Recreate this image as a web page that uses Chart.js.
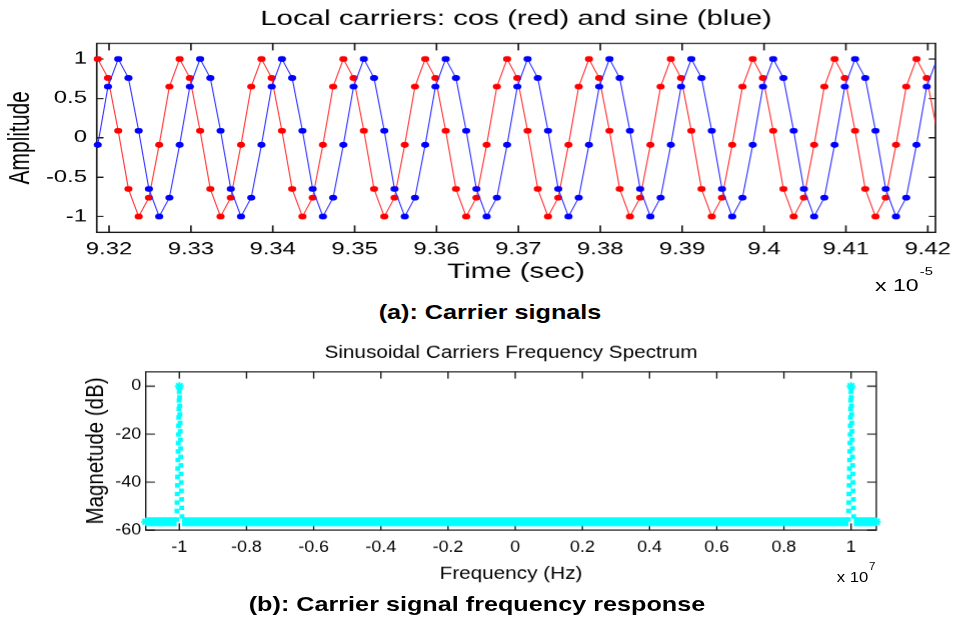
<!DOCTYPE html>
<html>
<head>
<meta charset="utf-8">
<script src="https://cdn.jsdelivr.net/npm/chart.js@4.4.1/dist/chart.umd.min.js"></script>
<style>
  html, body { margin: 0; padding: 0; background: #fff; }
  body { width: 953px; height: 618px; position: relative; overflow: hidden; font-family: 'Liberation Sans', Arial, sans-serif; }
  .stretch { position: absolute; left: 0; transform-origin: 0 0; }
  .mult { position: absolute; line-height: 1; color: #000; white-space: nowrap; }
  .caption { position: absolute; width: 600px; text-align: center; font-weight: bold; font-size: 21px; line-height: 24px; transform: scaleX(1.2); transform-origin: 50% 50%; }
</style>
</head>
<body>

<div class="stretch" id="topWrap" style="top:0; width:681px; height:300px; transform:scaleX(1.4);">
  <canvas id="carrierChart"></canvas>
  <div class="mult" style="left:625px; top:277px; font-size:16.5px;">x 10</div>
  <div class="mult" style="left:657px; top:266px; font-size:10.5px;">-5</div>
</div>
<div class="caption" style="left:190px; top:300px;">(a): Carrier signals</div>

<div class="stretch" id="botWrap" style="top:330px; width:829px; height:288px; transform:scaleX(1.15);">
  <canvas id="spectrumChart"></canvas>
  <div class="mult" style="left:727.6px; top:239.7px; font-size:14.5px;">x 10</div>
  <div class="mult" style="left:755.7px; top:231.5px; font-size:10px;">7</div>
</div>
<div class="caption" style="left:177px; top:592px;">(b): Carrier signal frequency response</div>

<script>
// ---- (a) carrier samples, time in units of 1e-5 s ----
const times = [
  9.31862, 9.31987, 9.32112, 9.32237, 9.32362, 9.32487, 9.32612, 9.32737,
  9.32862, 9.32987, 9.33112, 9.33237, 9.33362, 9.33487, 9.33612, 9.33737,
  9.33862, 9.33987, 9.34112, 9.34237, 9.34362, 9.34487, 9.34612, 9.34737,
  9.34862, 9.34987, 9.35112, 9.35237, 9.35362, 9.35487, 9.35612, 9.35737,
  9.35862, 9.35987, 9.36112, 9.36237, 9.36362, 9.36487, 9.36612, 9.36737,
  9.36862, 9.36987, 9.37112, 9.37237, 9.37362, 9.37487, 9.37612, 9.37737,
  9.37862, 9.37987, 9.38112, 9.38237, 9.38362, 9.38487, 9.38612, 9.38737,
  9.38862, 9.38987, 9.39112, 9.39237, 9.39362, 9.39487, 9.39612, 9.39737,
  9.39862, 9.39987, 9.40112, 9.40237, 9.40362, 9.40487, 9.40612, 9.40737,
  9.40862, 9.40987, 9.41112, 9.41237, 9.41362, 9.41487, 9.41612, 9.41737,
  9.41862, 9.41987, 9.42112
];
const cosVals = [
  1, 0.76, 0.09, -0.65, -1, -0.76, -0.09, 0.65,
  1, 0.76, 0.09, -0.65, -1, -0.76, -0.09, 0.65,
  1, 0.76, 0.09, -0.65, -1, -0.76, -0.09, 0.65,
  1, 0.76, 0.09, -0.65, -1, -0.76, -0.09, 0.65,
  1, 0.76, 0.09, -0.65, -1, -0.76, -0.09, 0.65,
  1, 0.76, 0.09, -0.65, -1, -0.76, -0.09, 0.65,
  1, 0.76, 0.09, -0.65, -1, -0.76, -0.09, 0.65,
  1, 0.76, 0.09, -0.65, -1, -0.76, -0.09, 0.65,
  1, 0.76, 0.09, -0.65, -1, -0.76, -0.09, 0.65,
  1, 0.76, 0.09, -0.65, -1, -0.76, -0.09, 0.65,
  1, 0.76, 0.09
];
const sinVals = [
  -0.09, 0.65, 1, 0.76, 0.09, -0.65, -1, -0.76,
  -0.09, 0.65, 1, 0.76, 0.09, -0.65, -1, -0.76,
  -0.09, 0.65, 1, 0.76, 0.09, -0.65, -1, -0.76,
  -0.09, 0.65, 1, 0.76, 0.09, -0.65, -1, -0.76,
  -0.09, 0.65, 1, 0.76, 0.09, -0.65, -1, -0.76,
  -0.09, 0.65, 1, 0.76, 0.09, -0.65, -1, -0.76,
  -0.09, 0.65, 1, 0.76, 0.09, -0.65, -1, -0.76,
  -0.09, 0.65, 1, 0.76, 0.09, -0.65, -1, -0.76,
  -0.09, 0.65, 1, 0.76, 0.09, -0.65, -1, -0.76,
  -0.09, 0.65, 1, 0.76, 0.09, -0.65, -1, -0.76,
  -0.09, 0.65, 1
];
const timeTicks = [9.32, 9.33, 9.34, 9.35, 9.36, 9.37, 9.38, 9.39, 9.40, 9.41, 9.42];
const ampTicks = [-1, -0.5, 0, 0.5, 1];

// ---- (b) spectrum, frequency in units of 1e7 Hz ----
const freqs = [-1.1, -1.008, -1, -0.992, 0.992, 1, 1.008, 1.075];
const mags = [-56.5, -56.5, 0, -56.5, -56.5, 0, -56.5, -56.5];
const freqTicks = [-1, -0.8, -0.6, -0.4, -0.2, 0, 0.2, 0.4, 0.6, 0.8, 1];
const magTicks = [-60, -40, -20, 0];

Chart.defaults.font.family = "'Liberation Sans', Arial, sans-serif";
Chart.defaults.color = '#000';

const tMin = 9.3185, tMax = 9.42094;

// MATLAB style box with inward ticks on all sides
const matlabBox = {
  id: 'matlabBox',
  beforeDatasetsDraw(chart, args, opts) {
    const { ctx, chartArea: a, scales: { x, y } } = chart;
    ctx.save();
    ctx.strokeStyle = '#1a1a1a';
    ctx.lineWidth = opts.lineWidth;
    ctx.strokeRect(a.left, a.top, a.right - a.left, a.bottom - a.top);
    ctx.beginPath();
    x.ticks.forEach(t => {
      const px = x.getPixelForValue(t.value);
      ctx.moveTo(px, a.bottom); ctx.lineTo(px, a.bottom - opts.xTick);
      ctx.moveTo(px, a.top); ctx.lineTo(px, a.top + opts.xTick);
    });
    y.ticks.forEach(t => {
      const py = y.getPixelForValue(t.value);
      ctx.moveTo(a.left, py); ctx.lineTo(a.left + opts.yTick, py);
      ctx.moveTo(a.right, py); ctx.lineTo(a.right - opts.yTick, py);
    });
    ctx.stroke();
    ctx.restore();
  }
};

function dotRadius(ctx) {
  return ctx.parsed && ctx.parsed.x > tMax ? 0 : 2.9;
}

new Chart(document.getElementById('carrierChart'), {
  type: 'line',
  data: {
    datasets: [
      {
        label: 'sine',
        data: times.map((t, i) => ({ x: t, y: sinVals[i] })),
        borderColor: '#2b2bff',
        backgroundColor: '#0000ff',
        borderWidth: 0.8,
        pointRadius: dotRadius,
        pointBorderWidth: 0,
        tension: 0,
        clip: { left: 10, top: 10, right: 0, bottom: 10 }
      },
      {
        label: 'cos',
        data: times.map((t, i) => ({ x: t, y: cosVals[i] })),
        borderColor: '#ff2b2b',
        backgroundColor: '#ff0000',
        borderWidth: 0.8,
        pointRadius: dotRadius,
        pointBorderWidth: 0,
        tension: 0,
        clip: { left: 10, top: 10, right: 0, bottom: 10 }
      }
    ]
  },
  options: {
    responsive: true,
    maintainAspectRatio: false,
    animation: false,
    events: [],
    devicePixelRatio: 1.4,
    layout: { padding: { left: 0, right: 13.1, top: 0, bottom: 0 } },
    plugins: {
      legend: { display: false },
      tooltip: { enabled: false },
      title: {
        display: true,
        fullSize: false,
        text: 'Local carriers: cos (red) and sine (blue)',
        font: { size: 21, weight: 'normal' },
        color: '#000',
        padding: { top: 6.4, bottom: 11.7 }
      },
      matlabBox: { lineWidth: 1.2, xTick: 7, yTick: 4.8 }
    },
    scales: {
      x: {
        type: 'linear',
        min: tMin,
        max: tMax,
        afterBuildTicks: s => { s.ticks = timeTicks.map(v => ({ value: v })); },
        afterFit: s => { s.height = 67.7; s.paddingLeft = 0; s.paddingRight = 0; },
        grid: { display: false, drawTicks: false },
        border: { display: false },
        ticks: {
          padding: 6.8, autoSkip: false, maxRotation: 0, minRotation: 0,
          font: { size: 17 }, color: '#000',
          callback: v => String(Math.round(v * 100) / 100)
        },
        title: { display: true, text: 'Time (sec)', font: { size: 21 }, color: '#000', padding: { top: 0, bottom: 15.4 } }
      },
      y: {
        min: -1.2,
        max: 1.2,
        afterBuildTicks: s => { s.ticks = ampTicks.map(v => ({ value: v })); },
        afterFit: s => { s.width = 69.1; s.paddingTop = 0; s.paddingBottom = 0; },
        grid: { display: false, drawTicks: false },
        border: { display: false },
        ticks: { padding: 7, font: { size: 17 }, color: '#000', callback: v => String(v) },
        title: { display: true, text: 'Amplitude', font: { size: 21 }, color: '#000', padding: { top: 2.5, bottom: 0 } }
      }
    }
  },
  plugins: [matlabBox]
});

function isFloor(ctx) {
  return ctx.p0.parsed.y < -50 && ctx.p1.parsed.y < -50;
}

new Chart(document.getElementById('spectrumChart'), {
  type: 'line',
  data: {
    datasets: [{
      label: 'spectrum',
      data: freqs.map((f, i) => ({ x: f, y: mags[i] })),
      borderColor: '#00ffff',
      borderWidth: 4.2,
      borderDash: [4.5, 4],
      segment: {
        borderWidth: ctx => isFloor(ctx) ? 9 : 4.2,
        borderDash: ctx => isFloor(ctx) ? [] : [4.5, 4]
      },
      pointStyle: 'star',
      pointRadius: ctx => (ctx.index === 0 || ctx.index === freqs.length - 1 || mags[ctx.index] > -50) ? 4 : 0,
      pointBorderColor: '#00ffff',
      pointBackgroundColor: '#00ffff',
      pointBorderWidth: 1.8,
      tension: 0,
      clip: false
    }]
  },
  options: {
    responsive: true,
    maintainAspectRatio: false,
    animation: false,
    events: [],
    devicePixelRatio: 1.15,
    layout: { padding: { left: 0, right: 67.3, top: 0, bottom: 0 } },
    plugins: {
      legend: { display: false },
      tooltip: { enabled: false },
      title: {
        display: true,
        fullSize: false,
        text: 'Sinusoidal Carriers Frequency Spectrum',
        font: { size: 18, weight: 'normal' },
        color: '#000',
        padding: { top: 12.2, bottom: 7.9 }
      },
      matlabBox: { lineWidth: 1.2, xTick: 6.7, yTick: 8 }
    },
    scales: {
      x: {
        type: 'linear',
        min: -1.1,
        max: 1.075,
        afterBuildTicks: s => { s.ticks = freqTicks.map(v => ({ value: v })); },
        afterFit: s => { s.height = 88; s.paddingLeft = 0; s.paddingRight = 0; },
        grid: { display: false, drawTicks: false },
        border: { display: false },
        ticks: {
          padding: 7.9, autoSkip: false, maxRotation: 0, minRotation: 0,
          font: { size: 15.5 }, color: '#000',
          callback: v => String(Math.round(v * 10) / 10)
        },
        title: { display: true, text: 'Frequency (Hz)', font: { size: 18 }, color: '#000', padding: { top: 0, bottom: 33.2 } }
      },
      y: {
        min: -60,
        max: 6,
        afterBuildTicks: s => { s.ticks = magTicks.map(v => ({ value: v })); },
        afterFit: s => { s.width = 126.7; s.paddingTop = 0; s.paddingBottom = 0; },
        grid: { display: false, drawTicks: false },
        border: { display: false },
        ticks: { padding: 4, font: { size: 15.5 }, color: '#000', callback: v => String(v) },
        title: { display: true, text: 'Magnetude (dB)', font: { size: 20.5 }, color: '#000', padding: { top: 71.7, bottom: 0 } }
      }
    }
  },
  plugins: [matlabBox]
});
</script>
</body>
</html>
